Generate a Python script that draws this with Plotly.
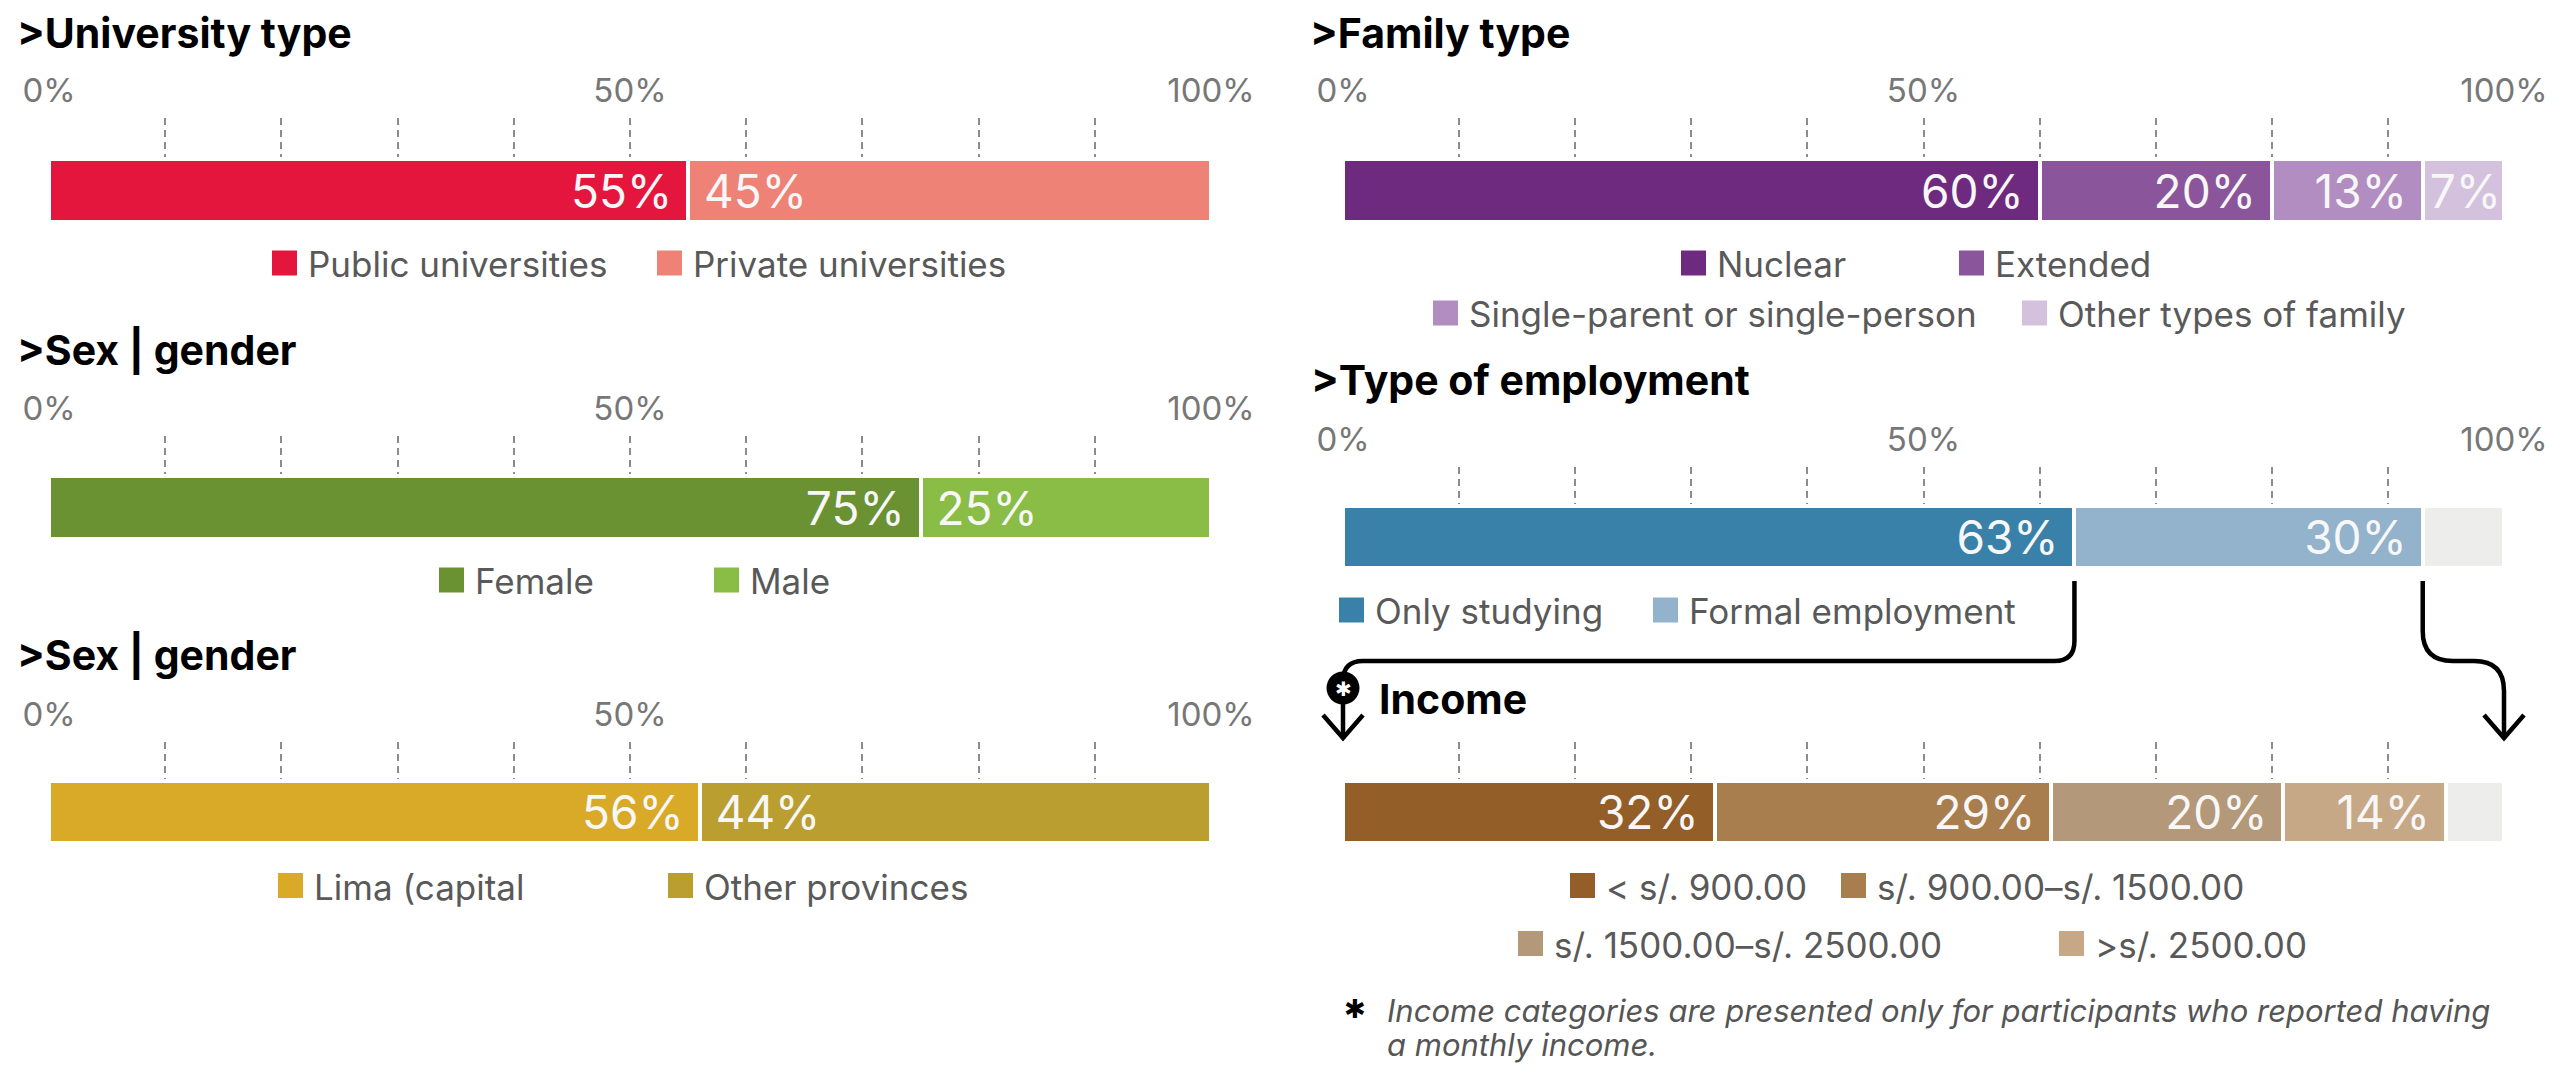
import plotly.graph_objects as go

# the page body keeps its default 8px margin, so the figure is 8px smaller
# and every pixel position below is shifted by that offset
OFF = 8
W, H = 2562 - OFF, 1076 - OFF
FONT = "Inter"

# ---- data ----
uni_labels = ["Public universities", "Private universities"]
uni_values = [55, 45]
uni_colors = ["#E5163D", "#EF8276"]

sex_labels = ["Female", "Male"]
sex_values = [75, 25]
sex_colors = ["#6A9232", "#89BD45"]

origin_labels = ["Lima (capital", "Other provinces"]
origin_values = [56, 44]
origin_colors = ["#D9AA28", "#BA9E30"]

family_labels = ["Nuclear", "Extended", "Single-parent or single-person", "Other types of family"]
family_values = [60, 20, 13, 7]
family_colors = ["#6E2A7F", "#8A559B", "#B18DC1", "#D3C1DD"]

employ_labels = ["Only studying", "Formal employment"]
employ_values = [63, 30]
employ_colors = ["#3981A8", "#93B2CB"]
employ_rest = 7

income_labels = ["&lt; s/. 900.00", "s/. 900.00–s/. 1500.00", "s/. 1500.00–s/. 2500.00", "&gt;s/. 2500.00"]
income_values = [32, 29, 20, 14]
income_colors = ["#935E28", "#A97E4F", "#B39879", "#C7A886"]
income_rest = 5

rest_color = "#EDEDEB"
tick_vals = list(range(0, 101, 10))
tick_text = ["0%", "", "", "", "", "50%", "", "", "", "", "100%"]


def py(p):
    return 1 - (p - OFF) / H


def px(p):
    return (p - OFF) / W


def dx(d):
    return d / W


# panels: axis suffix, x px range, grid top, bar top, bar bottom, show tick labels
LEFT = (49, 1211)
RIGHT = (1343, 2504)
panels = [
    ("", LEFT, 118, 161, 220, True),
    ("2", LEFT, 436, 478, 537, True),
    ("3", LEFT, 742, 783, 841, True),
    ("4", RIGHT, 118, 161, 220, True),
    ("5", RIGHT, 467, 508, 566, True),
    ("6", RIGHT, 742, 783, 841, False),
]

fig = go.Figure()
layout_axes = {}
for suf, (xa, xb), gtop, btop, bbot, labels_on in panels:
    hb = bbot - btop + 4
    layout_axes["xaxis" + suf] = dict(
        domain=[px(xa), px(xb)], range=[0, 100], side="top",
        anchor="y" + suf, tickvals=tick_vals,
        ticktext=tick_text if labels_on else [""] * len(tick_vals), ticks="",
        tickfont=dict(family=FONT, size=33, color="#777777"),
        ticklabelstandoff=8, automargin=False,
        showgrid=True, gridcolor="#8C8C8C", gridwidth=1.6, griddash="7px,5px",
        zeroline=False, showline=False, fixedrange=True,
    )
    layout_axes["yaxis" + suf] = dict(
        domain=[py(bbot + 2), py(gtop)],
        range=[-0.5, -0.5 + (bbot + 2 - gtop) / hb],
        anchor="x" + suf, visible=False, fixedrange=True, automargin=False,
    )


def add_bars(suf, values, colors, anchors, pads):
    for v, c, a, p in zip(values, colors, anchors, pads):
        txt = ""
        if a is not None:
            txt = (("\u00a0" if p and a == "start" else "") + f"{v}%" +
                   ("\u00a0" if p and a == "end" else ""))
        fig.add_trace(go.Bar(
            x=[v], y=[0], orientation="h", width=1,
            xaxis="x" + suf, yaxis="y" + suf,
            marker=dict(color=c, line=dict(color="white", width=4)),
            text=[txt] if txt else None,
            textposition="inside" if txt else "none",
            insidetextanchor=a if a else "end",
            textfont=dict(family=FONT, size=46, color="#F7F7F7"),
            hoverinfo="skip", showlegend=False,
        ))


add_bars("", uni_values, uni_colors, ["end", "start"], [True, True])
add_bars("2", sex_values, sex_colors, ["end", "start"], [True, True])
add_bars("3", origin_values, origin_colors, ["end", "start"], [True, True])
add_bars("4", family_values, family_colors, ["end"] * 4, [True, True, True, False])
add_bars("5", employ_values + [employ_rest], employ_colors + [rest_color], ["end", "end", None], [True, True, False])
add_bars("6", income_values + [income_rest], income_colors + [rest_color], ["end"] * 4 + [None], [True] * 4 + [False])

annotations = []
shapes = []

# titles
titles = [
    (">University type", 15, 32.5),
    (">Sex | gender", 15, 350),
    (">Sex | gender", 15, 654.5),
    (">Family type", 1308, 32.5),
    (">Type of employment", 1309, 380.5),
    ("Income", 1377, 699),
]
for t, x, y in titles:
    annotations.append(dict(
        text=t, x=px(x), y=py(y), xref="paper", yref="paper",
        xanchor="left", yanchor="middle", showarrow=False,
        font=dict(family=FONT, size=41, color="#000000", weight=700),
    ))

# legends (square left x, centre y)
legend_pos = [
    (uni_labels, uni_colors, [(272, 263), (657, 263)]),
    (sex_labels, sex_colors, [(439, 580), (714, 580)]),
    (origin_labels, origin_colors, [(278, 885.5), (668, 885.5)]),
    (family_labels, family_colors, [(1681, 263), (1959, 263), (1433, 313), (2022, 313)]),
    (employ_labels, employ_colors, [(1339, 610), (1653, 610)]),
    (income_labels, income_colors, [(1570, 885.5), (1841, 885.5), (1518, 943.5), (2059, 943.5)]),
]
SQ = 25
for labels, colors, pos in legend_pos:
    for lab, col, (x, y) in zip(labels, colors, pos):
        shapes.append(dict(
            type="rect", xref="paper", yref="paper",
            x0=px(x), x1=px(x + SQ), y0=py(y + SQ / 2), y1=py(y - SQ / 2),
            fillcolor=col, line=dict(width=0),
        ))
        annotations.append(dict(
            text=lab, x=px(x + SQ + 9), y=py(y + 1), xref="paper", yref="paper",
            xanchor="left", yanchor="middle", showarrow=False,
            font=dict(family=FONT, size=35, color="#595959"),
        ))

# connectors from the employment bar to the income bar
d0, d1 = px(RIGHT[0]), px(RIGHT[1])


def rx(v):
    # position on the employment / income axis (same horizontal scale) in paper units
    return d0 + v / 100.0 * (d1 - d0)


x63 = rx(employ_values[0])
x93 = rx(employ_values[0] + employ_values[1])
x0, x100 = rx(0), rx(100)
r1, r2, ah = dx(20), dx(30), dx(20)
path1 = (f"M {x63},{py(581)} L {x63},{py(641)} Q {x63},{py(661)} {x63 - r1},{py(661)} "
         f"L {x0 + r1},{py(661)} Q {x0},{py(661)} {x0},{py(681)}")
path1b = f"M {x0},{py(700)} L {x0},{py(737)}"
path2 = (f"M {x93},{py(581)} L {x93},{py(631)} Q {x93},{py(661)} {x93 + r2},{py(661)} "
         f"L {x100 - r2},{py(661)} Q {x100},{py(661)} {x100},{py(691)} L {x100},{py(737)}")
head1 = f"M {x0 - ah},{py(715)} L {x0},{py(738)} L {x0 + ah},{py(715)}"
head2 = f"M {x100 - ah},{py(715)} L {x100},{py(738)} L {x100 + ah},{py(715)}"
for p in [path1, path1b, path2, head1, head2]:
    shapes.append(dict(type="path", path=p, xref="paper", yref="paper",
                       line=dict(color="black", width=4.5)))
cr = dx(16.5)
shapes.append(dict(type="circle", xref="paper", yref="paper",
                   x0=x0 - cr, x1=x0 + cr, y0=py(688 + 16.5), y1=py(688 - 16.5),
                   fillcolor="black", line=dict(width=0)))
annotations.append(dict(
    text="✱", x=x0, y=py(689), xref="paper", yref="paper",
    xanchor="center", yanchor="middle", showarrow=False,
    font=dict(family="DejaVu Sans", size=20, color="white"),
))

# footnote
annotations.append(dict(
    text="✱", x=px(1355), y=py(1009), xref="paper", yref="paper",
    xanchor="center", yanchor="middle", showarrow=False,
    font=dict(family="DejaVu Sans", size=26, color="black"),
))
foot = ["Income categories are presented only for participants who reported having",
        "a monthly income."]
for line, y in zip(foot, [1010, 1044]):
    annotations.append(dict(
        text=line, x=px(1385), y=py(y), xref="paper", yref="paper",
        xanchor="left", yanchor="middle", showarrow=False,
        font=dict(family=FONT, size=31, color="#555555", style="italic"),
    ))

fig.update_layout(
    width=W, height=H, margin=dict(l=0, r=0, t=0, b=0),
    paper_bgcolor="white", plot_bgcolor="white",
    barmode="stack", showlegend=False,
    uniformtext=dict(minsize=44, mode="show"),
    annotations=annotations, shapes=shapes,
    **layout_axes,
)

fig.write_html("out.html")
